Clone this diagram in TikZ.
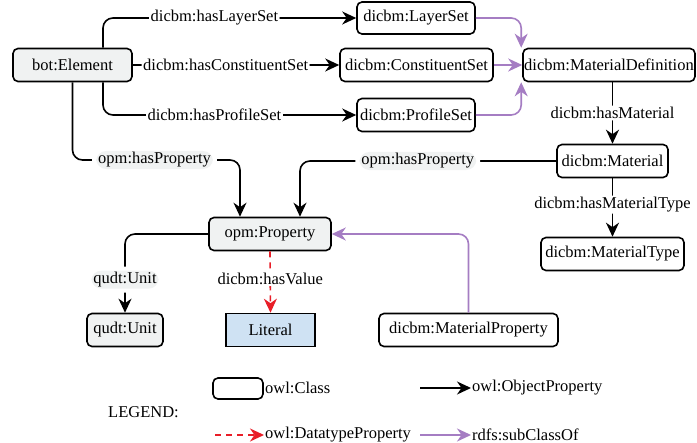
\documentclass[tikz,border=0pt]{standalone}
\usepackage{fontspec}
\setmainfont{Liberation Serif}
\usetikzlibrary{arrows.meta}
\definecolor{pfill}{RGB}{240,242,242}
\definecolor{lblue}{RGB}{207,226,243}
\definecolor{purp}{RGB}{165,125,195}
\definecolor{dred}{RGB}{232,30,40}
\tikzset{
  cls/.style={draw=black, line width=1.6pt, rounded corners=5pt, fill=white, inner sep=0pt, minimum height=33pt},
  gcls/.style={cls, fill=pfill},
  obj/.style={draw=black, line width=1.6pt, rounded corners=10pt, -{Stealth[length=14pt,width=13pt,inset=4.5pt]}},
  sub/.style={draw=purp, line width=1.6pt, rounded corners=10pt, -{Stealth[length=14pt,width=13pt,inset=4.5pt]}},
  dtp/.style={draw=dred, line width=1.6pt, dash pattern=on 6pt off 5pt, -{Stealth[length=14pt,width=13pt,inset=4.5pt]}},
  lbl/.style={fill=white, inner sep=1.5pt, text=black},
  glbl/.style={lbl, fill=pfill, inner xsep=2pt, outer xsep=4pt, preaction={draw=white, line width=8pt}},
}
\begin{document}
\begin{tikzpicture}[x=1pt,y=-1pt, font=\fontsize{16.5}{19}\selectfont]
\useasboundingbox[fill=white] (0,0) rectangle (697,443);
% nodes
\node[gcls, minimum width=119pt] (elem) at (72.5,65) {bot:Element};
\node[cls, minimum width=118pt, minimum height=32pt] (layer) at (416,18) {dicbm:LayerSet};
\node[cls, minimum width=153pt] (const) at (416.5,65) {dicbm:ConstituentSet};
\node[cls, minimum width=118pt] (profile) at (416,115) {dicbm:ProfileSet};
\node[cls, minimum width=172pt] (matdef) at (609,65) {dicbm:MaterialDefinition};
\node[cls, minimum width=111pt] (mat) at (612.5,161) {dicbm:Material};
\node[cls, minimum width=143pt] (mattype) at (612.5,254) {dicbm:MaterialType};
\node[gcls, minimum width=122pt] (prop) at (270,234) {opm:Property};
\node[gcls, minimum width=76pt] (unit) at (125,330) {qudt:Unit};
\node[cls, rounded corners=0pt, fill=lblue, minimum width=89pt] (literal) at (270.5,330) {Literal};
\node[cls, minimum width=179pt] (matprop) at (468.5,330) {dicbm:MaterialProperty};
% object properties
\draw[obj] ([xshift=30.5pt]elem.north) |- node[lbl, pos=0.72] {dicbm:hasLayerSet} (layer.west);
\draw[obj] (elem.east) -- node[lbl, pos=0.45] {dicbm:hasConstituentSet} (const.west);
\draw[obj] ([xshift=30.5pt]elem.south) |- node[lbl, pos=0.72] {dicbm:hasProfileSet} (profile.west);
\draw[obj] (elem.south) |- node[glbl, pos=0.745] {opm:hasProperty} (240,160) -- ([xshift=-30pt]prop.north);
\draw[obj] (mat.west) -| node[glbl, pos=0.27] {opm:hasProperty} ([xshift=30pt]prop.north);
\draw[obj] (mat.north |- matdef.south) -- node[lbl] {dicbm:hasMaterial} (mat.north);
\draw[obj] (mat.south) -- node[lbl, pos=0.45] {dicbm:hasMaterialType} (mattype.north);
\draw[obj] (prop.west) -| node[glbl, pos=0.79] {qudt:Unit} (unit.north);
\draw[dtp] (prop.south) -- node[lbl, pos=0.45] {dicbm:hasValue} (literal.north);
% subclass
\draw[sub] (layer.east) -| ([xshift=-1pt]matdef.north west);
\draw[sub] (const.east) -- (matdef.west);
\draw[sub] (profile.east) -| ([xshift=-1pt]matdef.south west);
\draw[sub] (matprop.north) |- (prop.east);
% legend
\node[cls, minimum width=50pt, minimum height=21pt] (legcls) at (238,388.5) {};
\node[anchor=west, inner sep=0pt] (legclst) at (265,388) {owl:Class};
\node[anchor=west, inner sep=0pt] (legtitle) at (108,412) {LEGEND:};
\coordinate (lo1) at (420,388); \coordinate (lo2) at (471,388);
\draw[obj] (lo1) -- (lo2);
\node[anchor=west, inner sep=0pt] (legobj) at (472,388) {owl:ObjectProperty};
\coordinate (ld1) at (215,435); \coordinate (ld2) at (264,435);
\draw[dtp] (ld1) -- (ld2);
\node[anchor=west, inner sep=0pt] (legdtp) at (265,435) {owl:DatatypeProperty};
\coordinate (ls1) at (420,435); \coordinate (ls2) at (471,435);
\draw[sub] (ls1) -- (ls2);
\node[anchor=west, inner sep=0pt] (legsub) at (472,435) {rdfs:subClassOf};
\end{tikzpicture}
\end{document}
